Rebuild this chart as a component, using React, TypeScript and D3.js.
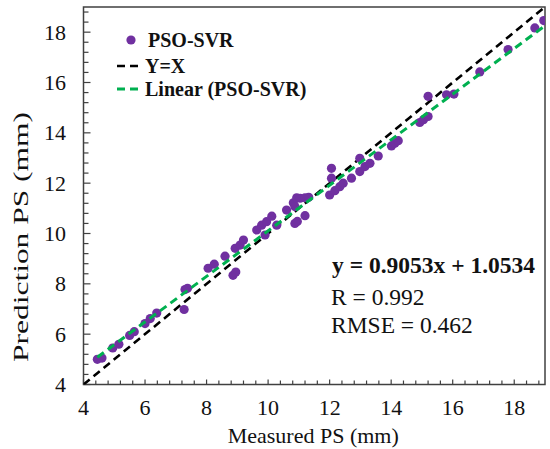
import React from "react";
import * as d3 from "d3";

const measured = [4.45, 4.6, 4.95, 5.15, 5.5, 5.65, 6.0, 6.17, 6.38, 7.27, 7.3, 7.38, 8.05, 8.25, 8.6, 8.86, 8.95, 8.93, 9.09, 9.2, 9.63, 9.79, 9.95, 9.9, 10.12, 10.28, 10.6, 10.87, 10.95, 11.2, 10.82, 10.87, 10.93, 11.04, 11.2, 11.32, 12.0, 12.17, 12.33, 12.44, 12.06, 12.06, 12.71, 12.98, 12.98, 13.15, 13.31, 13.58, 14.01, 14.12, 14.23, 14.93, 15.05, 15.2, 15.2, 15.8, 16.04, 16.88, 17.8, 18.67, 18.96];
const predicted = [5.0, 5.05, 5.45, 5.6, 5.95, 6.1, 6.42, 6.62, 6.84, 6.98, 7.77, 7.82, 8.62, 8.78, 9.1, 8.34, 8.47, 9.41, 9.54, 9.74, 10.14, 10.33, 10.47, 9.94, 10.69, 10.33, 10.93, 10.4, 10.48, 10.71, 11.22, 11.07, 11.42, 11.4, 11.42, 11.44, 11.53, 11.7, 11.86, 12.0, 12.59, 12.2, 12.2, 12.99, 12.46, 12.66, 12.79, 13.08, 13.48, 13.59, 13.69, 14.41, 14.52, 14.65, 15.45, 15.51, 15.54, 16.42, 17.31, 18.17, 18.46];

const slope = 0.9053;
const intercept = 1.0534;
const tickValues = [4, 6, 8, 10, 12, 14, 16, 18];
const domainMin = 4;
const domainMax = 19;
const legendLabels = ["PSO-SVR", "Y=X", "Linear (PSO-SVR)"];
const statLines = ["y = 0.9053x + 1.0534", "R = 0.992", "RMSE = 0.462"];
const xTitle = "Measured PS (mm)";
const yTitle = "Prediction PS (mm)";

const W = 550, H = 449;
const left = 83.5, right = 545, top = 7, bottom = 384.5;
const FONT = "'Liberation Serif', 'Times New Roman', Times, serif";
const PURPLE = "#7030A0";
const GREEN = "#00B050";
const AXIS = "#404040";

export default function App() {
  const x = d3.scaleLinear().domain([domainMin, domainMax]).range([left, right]);
  const y = d3.scaleLinear().domain([domainMin, domainMax]).range([bottom, top]);
  const minorTicks = d3.range(domainMin, domainMax + 0.001, 0.4);
  const line = d3.line<[number, number]>().x(d => x(d[0])).y(d => y(d[1]));
  const xMin = d3.min(measured) as number;
  const trend: [number, number][] = [[xMin, slope * xMin + intercept], [domainMax, slope * domainMax + intercept]];
  const ident: [number, number][] = [[domainMin, domainMin], [domainMax, domainMax]];
  const pts = measured.map((m, i) => [m, predicted[i]] as [number, number]);
  const isMajor = (v: number) => tickValues.some(t => Math.abs(t - v) < 1e-6);

  return (
    <svg width={W} height={H} style={{ position: "absolute", left: 0, top: 0, background: "#fff" }} fontFamily={FONT}>
      <rect x={0} y={0} width={W} height={H} fill="#fff" />
      <defs>
        <clipPath id="plot">
          <rect x={left} y={top} width={right - left} height={bottom - top} />
        </clipPath>
      </defs>
      {minorTicks.map((v, i) => (
        <g key={"t" + i}>
          <line x1={x(v)} x2={x(v)} y1={bottom} y2={bottom - (isMajor(v) ? 5 : 4)} stroke={AXIS} strokeWidth={1.2} />
          <line x1={left} x2={left + (isMajor(v) ? 7 : 5)} y1={y(v)} y2={y(v)} stroke={AXIS} strokeWidth={1.2} />
        </g>
      ))}
      <rect x={left} y={top} width={right - left} height={bottom - top} fill="none" stroke={AXIS} strokeWidth={1.5} />
      <g clipPath="url(#plot)">
        <path d={line(ident) as string} stroke="#000" strokeWidth={2.6} strokeDasharray="8,5" fill="none" />
        {pts.map((p, i) => (
          <circle key={i} cx={x(p[0])} cy={y(p[1])} r={4.6} fill={PURPLE} />
        ))}
        <path d={line(trend) as string} stroke={GREEN} strokeWidth={3} strokeDasharray="8,5" fill="none" />
      </g>
      {tickValues.map(t => (
        <text key={"xl" + t} x={x(t)} y={415} textAnchor="middle" fontSize={22} fill="#111">{t}</text>
      ))}
      {tickValues.map(t => (
        <text key={"yl" + t} x={66} y={y(t)} textAnchor="end" dominantBaseline="central" fontSize={22} fill="#111">{t}</text>
      ))}
      <text x={(left + right) / 2 - 1} y={443} textAnchor="middle" fontSize={22} fill="#111">{xTitle}</text>
      <text transform={`translate(28,237) rotate(-90)`} textAnchor="middle" fontSize={22} fill="#111" textLength={250} lengthAdjust="spacingAndGlyphs">{yTitle}</text>
      <circle cx={131} cy={40} r={4.6} fill={PURPLE} />
      <text x={148} y={47} fontSize={20} fontWeight="bold" fill="#111">{legendLabels[0]}</text>
      <line x1={117} x2={142} y1={66} y2={66} stroke="#000" strokeWidth={2.6} strokeDasharray="8,5" />
      <text x={145} y={72.5} fontSize={20} fontWeight="bold" fill="#111">{legendLabels[1]}</text>
      <line x1={117} x2={142} y1={89} y2={89} stroke={GREEN} strokeWidth={3} strokeDasharray="8,5" />
      <text x={145} y={96} fontSize={20} fontWeight="bold" fill="#111">{legendLabels[2]}</text>
      <text x={332} y={273} fontSize={23.5} fontWeight="bold" fill="#111">{statLines[0]}</text>
      <text x={331} y={305} fontSize={23.5} fill="#111">{statLines[1]}</text>
      <text x={331} y={333} fontSize={23.5} fill="#111">{statLines[2]}</text>
    </svg>
  );
}
